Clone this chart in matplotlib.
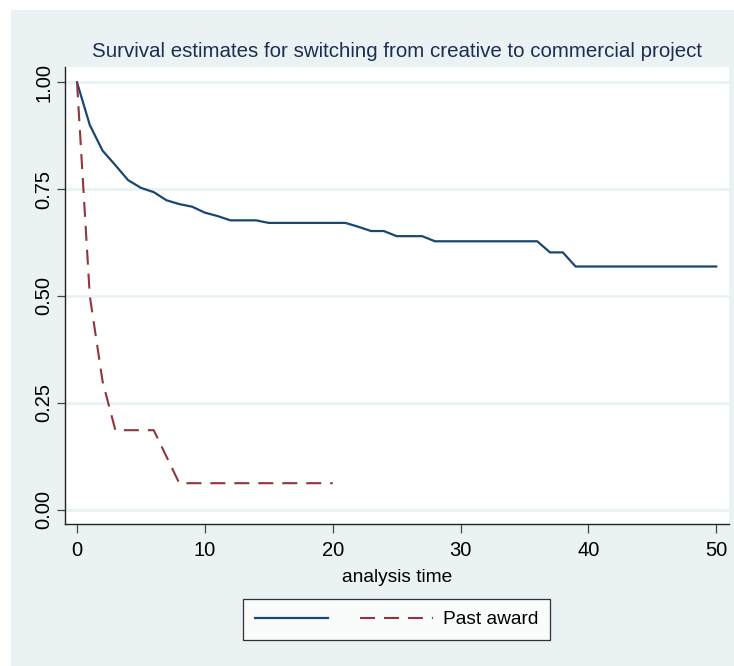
import matplotlib
matplotlib.use("Agg")
import matplotlib.pyplot as plt
from matplotlib.patches import Rectangle
from matplotlib.lines import Line2D

plt.rcParams['font.family'] = ['Liberation Sans', 'DejaVu Sans']

# ---- data ----
title = "Survival estimates for switching from creative to commercial project"
xlabel = "analysis time"
legend_labels = ["", "Past award"]

t_main = list(range(0, 51))
s_main = [1.000, 0.900, 0.840, 0.806, 0.771, 0.753, 0.743, 0.724, 0.715, 0.709,
          0.695, 0.687, 0.677, 0.677, 0.677, 0.671, 0.671, 0.671, 0.671, 0.671,
          0.671, 0.671, 0.662, 0.652, 0.652, 0.640, 0.640, 0.640, 0.628, 0.628,
          0.628, 0.628, 0.628, 0.628, 0.628, 0.628, 0.628, 0.602, 0.602, 0.569,
          0.569, 0.569, 0.569, 0.569, 0.569, 0.569, 0.569, 0.569, 0.569, 0.569,
          0.569]

t_award = list(range(0, 21))
s_award = [1.000, 0.500, 0.300, 0.186, 0.186, 0.186, 0.186, 0.124, 0.062, 0.062,
           0.062, 0.062, 0.062, 0.062, 0.062, 0.062, 0.062, 0.062, 0.062, 0.062,
           0.062]

xticks = [0, 10, 20, 30, 40, 50]
yticks = [0.00, 0.25, 0.50, 0.75, 1.00]
ytick_labels = ["0.00", "0.25", "0.50", "0.75", "1.00"]

# ---- style ----
BG = "#EAF2F3"
NAVY = "#1A476F"
MAROON = "#90353B"
TITLE_C = "#1E2D52"

W, H = 734, 666
fig = plt.figure(figsize=(W / 100, H / 100), dpi=100, facecolor="white")
fig.patches.append(Rectangle((11 / W, 0), 1 - 11 / W, 1 - 10 / H,
                             transform=fig.transFigure, facecolor=BG,
                             edgecolor="none", zorder=-10))

ax = fig.add_axes([65 / W, 1 - 524 / H, (729 - 65) / W, (524 - 67) / H])
ax.set_facecolor("white")

ax.plot(t_main, s_main, color=NAVY, lw=1.6, solid_joinstyle="miter", zorder=3)
ax.plot(t_award, s_award, color=MAROON, lw=1.5, dashes=[7.2, 4.3], zorder=3)

ax.set_xlim(-0.94, 51.0)
ax.set_ylim(-0.0335, 1.0358)
ax.set_xticks(xticks)
ax.set_yticks(yticks)
ax.set_yticklabels(ytick_labels, rotation=90, va="center")
ax.grid(axis="y", color=BG, lw=2.0, zorder=0)
ax.grid(axis="x", visible=False)

for s in ["top", "right"]:
    ax.spines[s].set_visible(False)
for s in ["left", "bottom"]:
    ax.spines[s].set_color("#222222")
    ax.spines[s].set_linewidth(1.0)

ax.tick_params(axis="x", length=6.5, width=0.9, color="#444444", pad=6,
               labelsize=14.5)
ax.tick_params(axis="y", length=6, width=0.9, color="#444444", pad=2.5,
               labelsize=14.5)

fig.text((65 + 729) / 2 / W, 1 - 57 / H, title, ha="center", va="baseline",
         fontsize=14.75, color=TITLE_C)
fig.text(397 / W, 1 - 582 / H, xlabel, ha="center", va="baseline",
         fontsize=13.8, color="black")

handles = [Line2D([], [], color=NAVY, lw=1.6),
           Line2D([], [], color=MAROON, lw=1.5, dashes=[7.2, 4.3])]
leg = fig.legend(handles, legend_labels, ncol=2, loc="center",
                 bbox_to_anchor=(396.5 / W, 1 - 619.5 / H),
                 fontsize=13.8, frameon=True, fancybox=False,
                 handlelength=3.8, handletextpad=0.5, columnspacing=1.2,
                 borderpad=0.6, borderaxespad=0)
leg.get_frame().set_edgecolor("black")
leg.get_frame().set_linewidth(0.9)
leg.get_frame().set_facecolor("white")

fig.savefig("out.png", dpi=100, facecolor=fig.get_facecolor())
